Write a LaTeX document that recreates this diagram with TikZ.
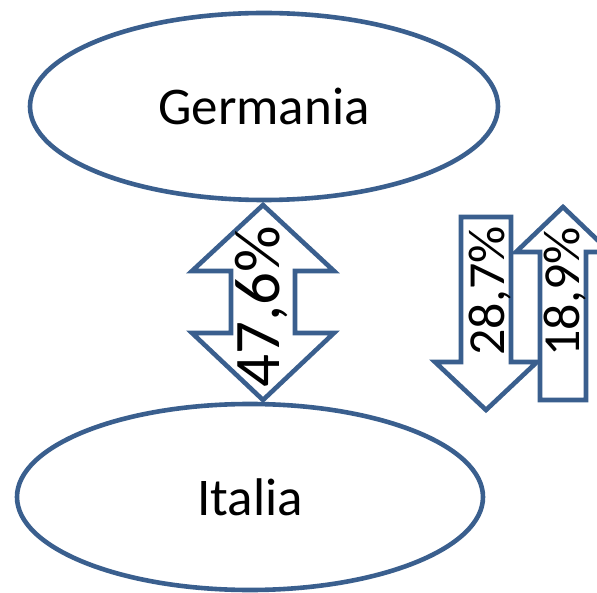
\documentclass[tikz,border=0pt]{standalone}
\usepackage{fontspec}
\setmainfont{Carlito}
\usetikzlibrary{shapes.geometric}
\definecolor{edgeblue}{HTML}{3A5F8E}
\begin{document}
\begin{tikzpicture}[x=1pt,y=-1pt,
  country/.style={ellipse, draw=edgeblue, line width=4.6pt, fill=white, inner sep=0pt,
    font=\fontsize{53}{60}\selectfont},
  arrowshape/.style={draw=edgeblue, line width=4.6pt, fill=white, line join=miter},
  pct/.style={rotate=90, inner sep=0pt}]
\useasboundingbox (0,0) rectangle (597,593);
\clip (0,0) rectangle (597,593);
% ellipses
\node[country, minimum width=468pt, minimum height=187pt] (germania) at (264,106.5) {Germania};
\node[country, minimum width=466pt, minimum height=186pt] (italia) at (250,497) {Italia};
% double arrow
\draw[arrowshape] (263,205) -- (334,271) -- (295,271) -- (295,333) -- (334,333) -- (263,400)
  -- (192,333) -- (231,333) -- (231,271) -- (192,271) -- cycle;
\node[pct, font=\fontsize{65}{70}\selectfont] (p476) at (261,307) {47,6\%};
% down arrow
\draw[arrowshape] (461,217) -- (511,217) -- (511,362) -- (537,362) -- (486,410) -- (435,362)
  -- (461,362) -- cycle;
\node[pct, font=\fontsize{52}{60}\selectfont] (p287) at (490,291) {28,7\%};
% up arrow
\draw[arrowshape] (563,207) -- (610,252) -- (586,252) -- (586,400) -- (540,400) -- (540,252)
  -- (516,252) -- cycle;
\node[pct, font=\fontsize{52}{60}\selectfont] (p189) at (565,292) {18,9\%};
\end{tikzpicture}
\end{document}
